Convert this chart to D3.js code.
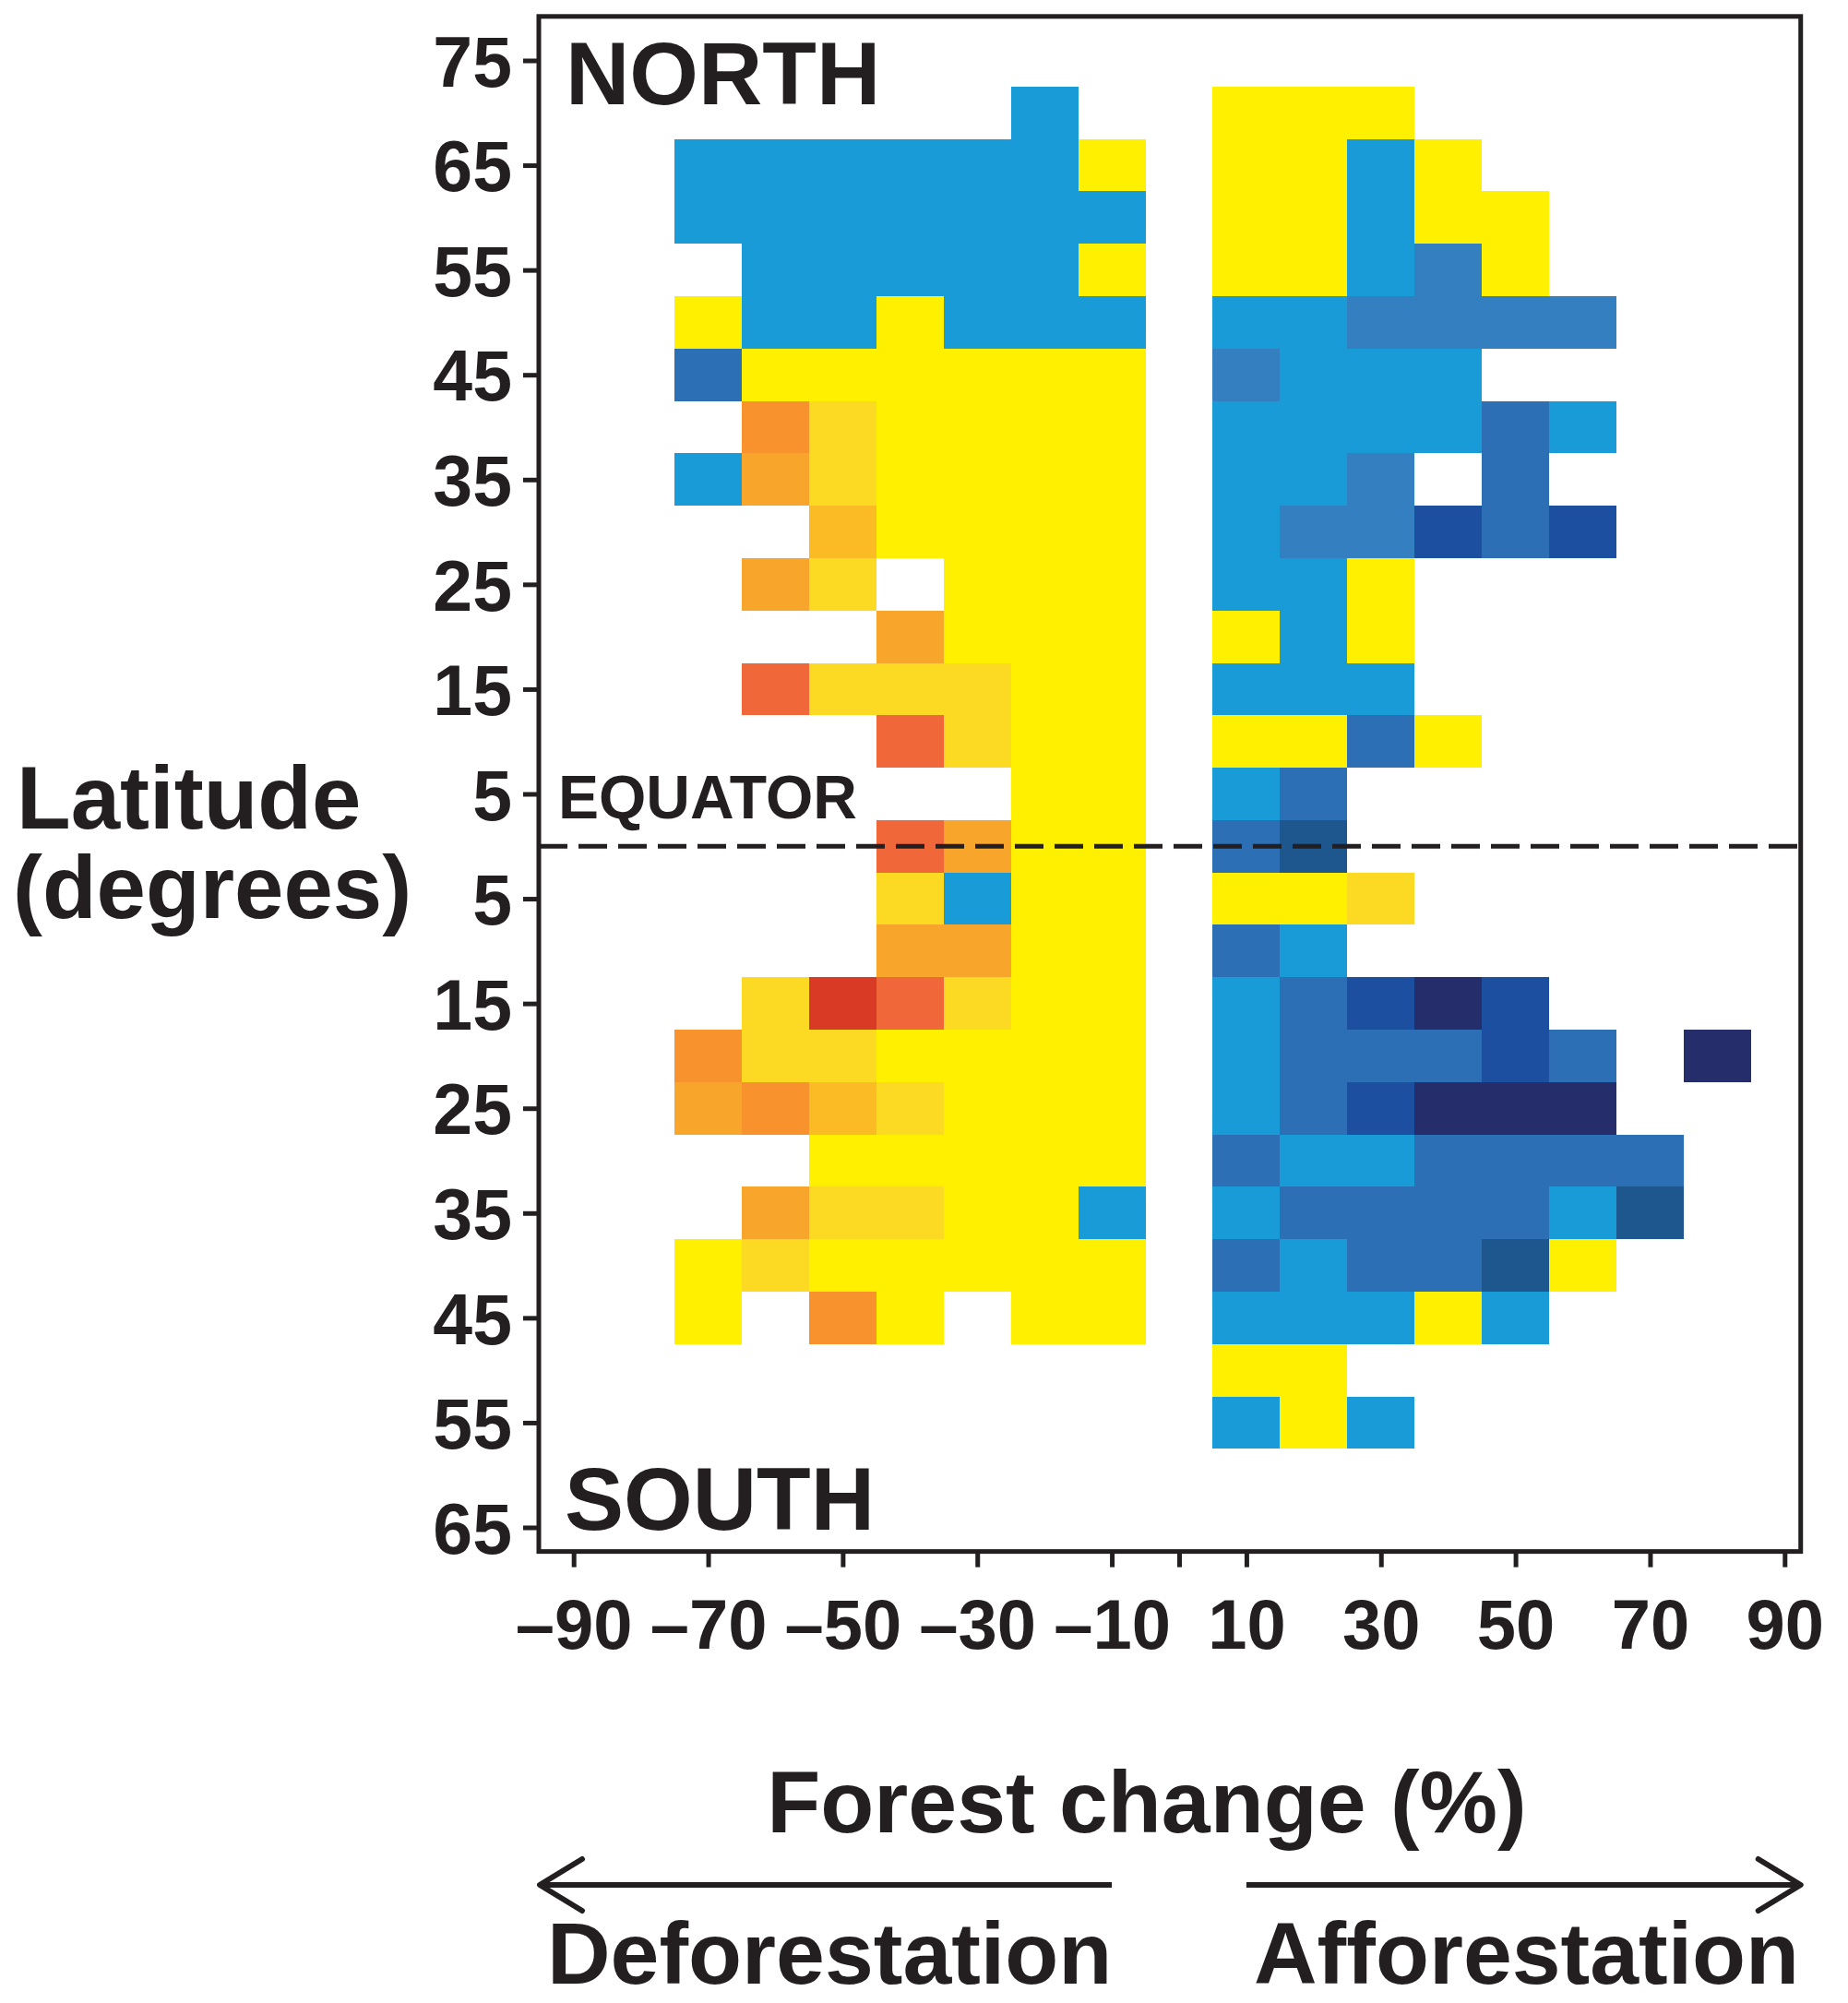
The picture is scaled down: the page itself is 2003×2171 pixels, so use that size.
<!DOCTYPE html>
<meta charset="utf-8">
<script src="https://d3js.org/d3.v7.min.js"></script>
<style>
  body { margin: 0; background: #fff; }
  text { font-family: "Liberation Sans", Arial, Helvetica, sans-serif; font-weight: bold; fill: #231f20; }
</style>
<div id="chart"></div>
<script>
// row centres (degrees latitude, 5 degree bands)
var latitudes = [70, 65, 60, 55, 50, 45, 40, 35, 30, 25, 20, 15, 10, 5, 0,
                 -5, -10, -15, -20, -25, -30, -35, -40, -45, -50, -55];

// column centres (forest change %, 10 % bins)
var changes = [-70, -60, -50, -40, -30, -20, -10, 10, 20, 30, 40, 50, 60, 70, 80];

// one string per latitude row, one character per change column ("." = no data)
var cells = [
  ".....B.YYY.....",
  "BBBBBBYYYBY....",
  "BBBBBBBYYBYY...",
  ".BBBBBYYYBMY...",
  "YBBYBBBBBMMMM..",
  "NYYYYYYMBBB....",
  ".PGYYYYBBBBNB..",
  "BOGYYYYBBM.N...",
  "..LYYYYBMMKNK..",
  ".OG.YYYBBY.....",
  "...OYYYYBY.....",
  ".RGGGYYBBB.....",
  "...RGYYYYNY....",
  ".....YYBN......",
  "...ROYYNS......",
  "...GBYYYYG.....",
  "...OOYYNB......",
  ".GDRGYYBNKVK...",
  "PGGYYYYBNNNKN.V",
  "OPLGYYYBNKVVV..",
  "..YYYYYNBBNNNN.",
  ".OGGYYBBNNNNBS.",
  "YGYYYYYNBNNSY..",
  "Y.PY.YYBBBYB...",
  ".......YY......",
  ".......BYB....."
];

var classes = ["Y", "G", "L", "O", "P", "R", "D", "B", "M", "N", "K", "S", "V"];
var classColors = ["#fff000", "#fcd923", "#fbbb24", "#f8a52b", "#f7922d", "#f0673a", "#d83a26",
                   "#189bd7", "#347fc0", "#2d6fb5", "#1c4fa0", "#1e568e", "#252e6a"];

var yTicks = [75, 65, 55, 45, 35, 25, 15, 5, -5, -15, -25, -35, -45, -55, -65];
var xTicks = [-90, -70, -50, -30, -10, 0, 10, 30, 50, 70, 90];

var W = 2003, H = 2171;
var ink = "#231f20";

var svg = d3.select("#chart").append("svg")
    .attr("width", W)
    .attr("height", H);

var x = d3.scaleLinear().domain([-90, 90]).range([621.7, 1934.3]);
var y = d3.scaleLinear().domain([75, -65]).range([65.5, 1655.5]);

var color = d3.scaleOrdinal().domain(classes).range(classColors);

var frameL = x(-95.17), frameR = x(92.39), frameT = y(79.2), frameB = y(-67.3);

// flatten the grid into cell records
var data = [];
latitudes.forEach(function(lat, i) {
  changes.forEach(function(ch, j) {
    var c = cells[i].charAt(j);
    if (c !== ".") data.push({lat: lat, change: ch, cls: c});
  });
});

svg.append("g")
  .selectAll("rect")
  .data(data)
  .enter().append("rect")
    .attr("x", function(d) { return x(d.change - 5); })
    .attr("y", function(d) { return y(d.lat + 2.5); })
    .attr("width", function(d) { return x(d.change + 5) - x(d.change - 5); })
    .attr("height", function(d) { return y(d.lat - 2.5) - y(d.lat + 2.5); })
    .attr("fill", function(d) { return color(d.cls); })
    .attr("shape-rendering", "crispEdges");

// equator
svg.append("line")
    .attr("x1", frameL).attr("x2", frameR)
    .attr("y1", y(0)).attr("y2", y(0))
    .attr("stroke", ink)
    .attr("stroke-width", 5)
    .attr("stroke-dasharray", "31,12");

// frame
svg.append("rect")
    .attr("x", frameL).attr("y", frameT)
    .attr("width", frameR - frameL).attr("height", frameB - frameT)
    .attr("fill", "none")
    .attr("stroke", ink)
    .attr("stroke-width", 5);

// y axis
var yAxis = svg.append("g")
    .attr("transform", "translate(" + frameL + ",0)")
    .call(d3.axisLeft(y).tickValues(yTicks)
      .tickFormat(function(d) { return Math.abs(d); })
      .tickSize(17).tickPadding(12));
yAxis.select(".domain").remove();
yAxis.selectAll(".tick line").attr("stroke", ink).attr("stroke-width", 5);
yAxis.selectAll(".tick text")
    .style("font-size", "77px")
    .attr("dy", "0.36em");
yAxis.attr("font-family", null).attr("font-size", null);

// x axis
var xAxis = svg.append("g")
    .attr("transform", "translate(0," + frameB + ")")
    .call(d3.axisBottom(x).tickValues(xTicks)
      .tickFormat(function(d) { return d === 0 ? "" : (d < 0 ? "\u2013" + (-d) : d); })
      .tickSize(17).tickPadding(34));
xAxis.select(".domain").remove();
xAxis.selectAll(".tick line").attr("stroke", ink).attr("stroke-width", 5);
xAxis.selectAll(".tick text")
    .style("font-size", "76px");
xAxis.attr("font-family", null).attr("font-size", null);

// labels inside the plot
svg.append("text").attr("x", 613).attr("y", 113).style("font-size", "96px").text("NORTH");
svg.append("text").attr("x", 612).attr("y", 1658).style("font-size", "96px").text("SOUTH");
svg.append("text").attr("x", 605).attr("y", 887).style("font-size", "66px").text("EQUATOR");

// y title
svg.append("text").attr("x", 18).attr("y", 898).style("font-size", "96px").text("Latitude");
svg.append("text").attr("x", 14).attr("y", 995).style("font-size", "96px").text("(degrees)");

// x title
svg.append("text").attr("x", 1243).attr("y", 1986)
    .attr("text-anchor", "middle")
    .style("font-size", "95px")
    .text("Forest change (%)");

// direction arrows
var arrowY = 2043;
function arrow(from, to) {
  var dir = to > from ? 1 : -1;
  svg.append("line")
      .attr("x1", from).attr("x2", to)
      .attr("y1", arrowY).attr("y2", arrowY)
      .attr("stroke", ink).attr("stroke-width", 6);
  svg.append("path")
      .attr("d", "M" + (to - dir * 46) + "," + (arrowY - 28) + "L" + to + "," + arrowY +
                 "L" + (to - dir * 46) + "," + (arrowY + 28))
      .attr("fill", "none")
      .attr("stroke", ink).attr("stroke-width", 6)
      .attr("stroke-linecap", "round").attr("stroke-linejoin", "round");
}
arrow(x(-10), frameL + 1);
arrow(x(10), frameR);

svg.append("text").attr("x", 593).attr("y", 2150).style("font-size", "95px").text("Deforestation");
svg.append("text").attr("x", 1359).attr("y", 2150).style("font-size", "95px").text("Afforestation");
</script>
